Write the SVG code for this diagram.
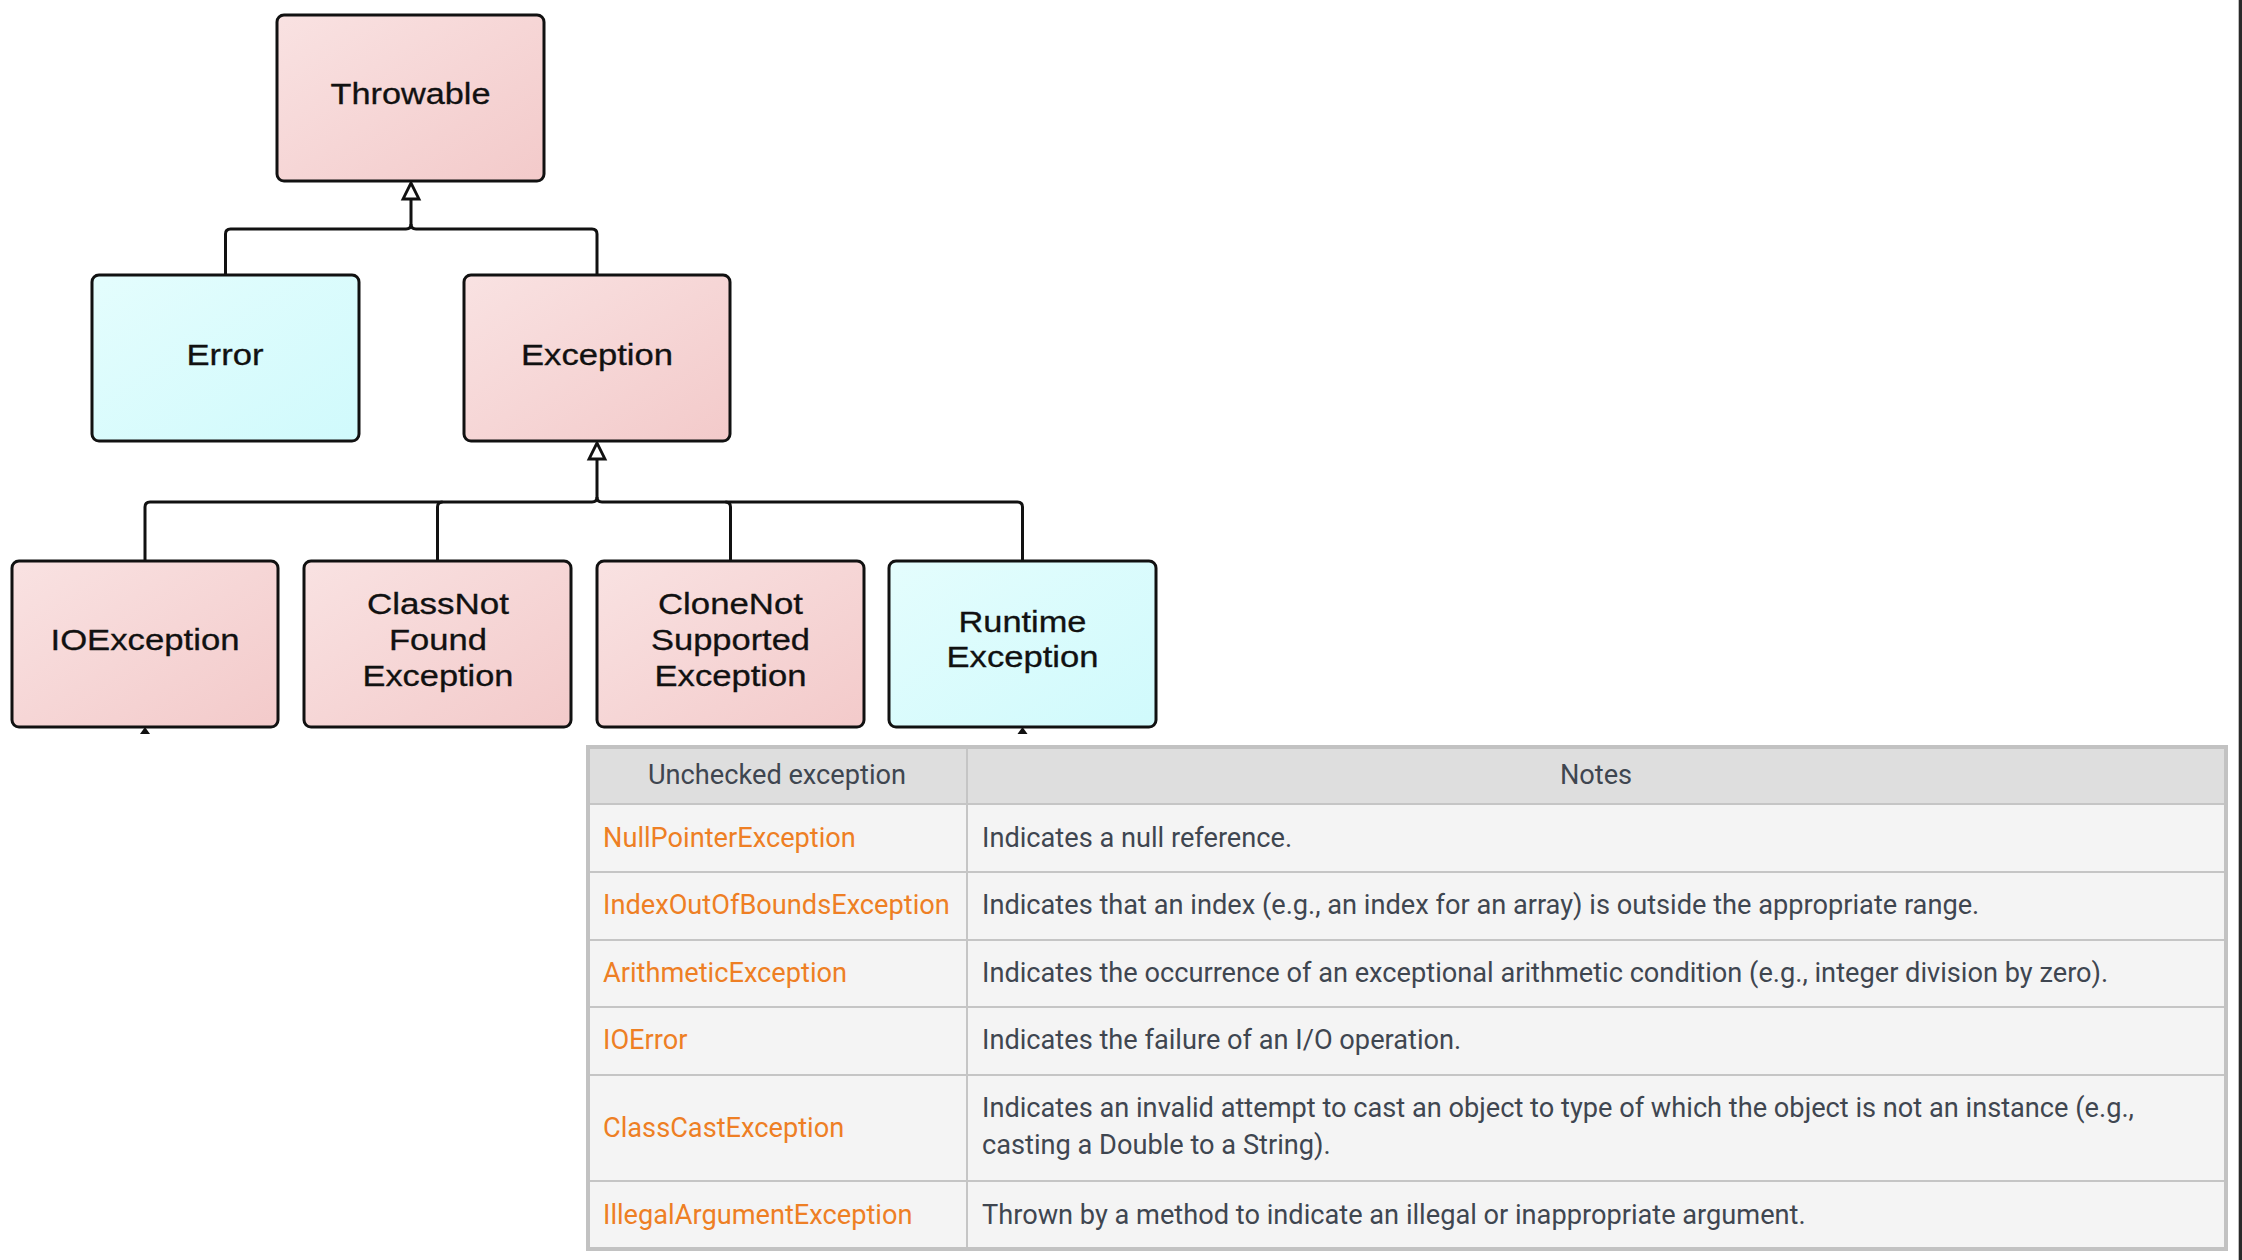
<svg xmlns="http://www.w3.org/2000/svg" width="2242" height="1260" viewBox="0 0 2242 1260">
<defs>
<linearGradient id="pink" x1="0" y1="0" x2="1" y2="1">
<stop offset="0" stop-color="#f9e2e2"/>
<stop offset="1" stop-color="#f3caca"/>
</linearGradient>
<linearGradient id="cyan" x1="0" y1="0" x2="1" y2="1">
<stop offset="0" stop-color="#e4fdfd"/>
<stop offset="1" stop-color="#d0fafc"/>
</linearGradient>
<style>
.box{stroke:#111;stroke-width:3}
.pk{fill:url(#pink)}
.cy{fill:url(#cyan)}
.nt{font-family:"Liberation Sans",Arial,sans-serif;font-size:29px;fill:#111;stroke:#111;stroke-width:0.3;text-anchor:middle}
.wire{fill:none;stroke:#111;stroke-width:3}
.head{fill:#fff;stroke:#111;stroke-width:2.8;stroke-linejoin:miter}
.tip{fill:#111}
.tt{font-family:Roboto,"Liberation Sans",sans-serif;font-size:27.2px;fill:#3f4650}
.org{fill:#ee7f24}
.hd{text-anchor:middle}
.grid{stroke:#c5c5c5;stroke-width:2}
</style>
</defs>
<rect width="2242" height="1260" fill="#fff"/>
<rect x="2238" y="0" width="1" height="1260" fill="#bdbdbd"/>
<rect x="2239" y="0" width="3" height="1260" fill="#2a2a2a"/>

<g id="connectors">
<path class="wire" d="M225.5,275 V234 Q225.5,229 230.5,229 H406 Q411,229 411,224 V198"/>
<path class="wire" d="M597,275 V234 Q597,229 592,229 H416 Q411,229 411,224"/>
<polygon class="head" points="411,183 403,199 419,199"/>
<path class="wire" d="M145,561 V507 Q145,502 150,502 H592 Q597,502 597,497 V458"/>
<path class="wire" d="M437.5,561 V507 Q437.5,502 442.5,502"/>
<path class="wire" d="M1022.5,561 V507 Q1022.5,502 1017.5,502 H602 Q597,502 597,497"/>
<path class="wire" d="M730.5,561 V507 Q730.5,502 725.5,502"/>
<polygon class="head" points="597,443 589,459 605,459"/>
<polygon class="tip" points="140,734 145,727 150,734"/>
<polygon class="tip" points="1017.5,734 1022.5,727 1027.5,734"/>
</g>

<g id="throwable">
<rect class="box pk" x="277" y="15" width="267" height="166" rx="7"/>
<text class="nt" x="410.5" y="104" textLength="160" lengthAdjust="spacingAndGlyphs">Throwable</text>
</g>
<g id="error">
<rect class="box cy" x="92" y="275" width="267" height="166" rx="7"/>
<text class="nt" x="225" y="365" textLength="77" lengthAdjust="spacingAndGlyphs">Error</text>
</g>
<g id="exception">
<rect class="box pk" x="464" y="275" width="266" height="166" rx="7"/>
<text class="nt" x="597" y="365" textLength="152" lengthAdjust="spacingAndGlyphs">Exception</text>
</g>
<g id="ioexception">
<rect class="box pk" x="12" y="561" width="266" height="166" rx="7"/>
<text class="nt" x="145" y="650" textLength="189" lengthAdjust="spacingAndGlyphs">IOException</text>
</g>
<g id="classnotfound">
<rect class="box pk" x="304" y="561" width="267" height="166" rx="7"/>
<text class="nt" x="438" y="614" textLength="142" lengthAdjust="spacingAndGlyphs">ClassNot</text>
<text class="nt" x="438" y="650" textLength="98" lengthAdjust="spacingAndGlyphs">Found</text>
<text class="nt" x="438" y="686" textLength="151" lengthAdjust="spacingAndGlyphs">Exception</text>
</g>
<g id="clonenotsupported">
<rect class="box pk" x="597" y="561" width="267" height="166" rx="7"/>
<text class="nt" x="730.5" y="614" textLength="145" lengthAdjust="spacingAndGlyphs">CloneNot</text>
<text class="nt" x="730.5" y="650" textLength="159" lengthAdjust="spacingAndGlyphs">Supported</text>
<text class="nt" x="730.5" y="686" textLength="152" lengthAdjust="spacingAndGlyphs">Exception</text>
</g>
<g id="runtimeexception">
<rect class="box cy" x="889" y="561" width="267" height="166" rx="7"/>
<text class="nt" x="1022.5" y="632" textLength="128" lengthAdjust="spacingAndGlyphs">Runtime</text>
<text class="nt" x="1022.5" y="667" textLength="152" lengthAdjust="spacingAndGlyphs">Exception</text>
</g>

<g id="table">
<rect x="588" y="747" width="1638" height="502" fill="#f4f4f4"/>
<rect x="588" y="747" width="1638" height="57" fill="#dedede"/>
<line class="grid" x1="588" y1="804" x2="2226" y2="804"/>
<line class="grid" x1="588" y1="872" x2="2226" y2="872"/>
<line class="grid" x1="588" y1="940" x2="2226" y2="940"/>
<line class="grid" x1="588" y1="1007" x2="2226" y2="1007"/>
<line class="grid" x1="588" y1="1075" x2="2226" y2="1075"/>
<line class="grid" x1="588" y1="1181" x2="2226" y2="1181"/>
<line class="grid" x1="967" y1="747" x2="967" y2="1249"/>
<rect x="588" y="747" width="1638" height="502" fill="none" stroke="#c2c2c2" stroke-width="4"/>
<text class="tt hd" x="777" y="784">Unchecked exception</text>
<text class="tt hd" x="1596" y="784">Notes</text>
<text class="tt org" x="603" y="847">NullPointerException</text>
<text class="tt" x="982" y="847">Indicates a null reference.</text>
<text class="tt org" x="603" y="914">IndexOutOfBoundsException</text>
<text class="tt" x="982" y="914">Indicates that an index (e.g., an index for an array) is outside the appropriate range.</text>
<text class="tt org" x="603" y="982">ArithmeticException</text>
<text class="tt" x="982" y="982">Indicates the occurrence of an exceptional arithmetic condition (e.g., integer division by zero).</text>
<text class="tt org" x="603" y="1049">IOError</text>
<text class="tt" x="982" y="1049">Indicates the failure of an I/O operation.</text>
<text class="tt org" x="603" y="1137">ClassCastException</text>
<text class="tt" x="982" y="1117">Indicates an invalid attempt to cast an object to type of which the object is not an instance (e.g.,</text>
<text class="tt" x="982" y="1154">casting a Double to a String).</text>
<text class="tt org" x="603" y="1224">IllegalArgumentException</text>
<text class="tt" x="982" y="1224">Thrown by a method to indicate an illegal or inappropriate argument.</text>
</g>
</svg>
